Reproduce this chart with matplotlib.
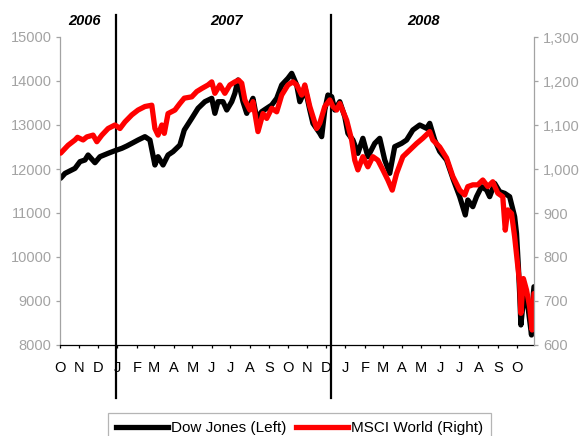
import matplotlib
matplotlib.use("Agg")
import matplotlib.pyplot as plt
import matplotlib.transforms as mtransforms
from matplotlib.lines import Line2D
from matplotlib.ticker import FuncFormatter
import pandas as pd

plt.rcParams['font.family'] = ['Liberation Sans', 'DejaVu Sans']

# ---- data -------------------------------------------------------------
dow_dates = [
    "2006-10-02", "2006-10-09", "2006-10-25", "2006-11-02", "2006-11-10",
    "2006-11-15", "2006-11-26", "2006-12-04", "2006-12-17", "2006-12-28",
    "2007-01-08", "2007-01-16", "2007-01-26", "2007-02-03", "2007-02-14",
    "2007-02-22", "2007-03-02", "2007-03-07", "2007-03-15", "2007-03-23",
    "2007-03-31", "2007-04-11", "2007-04-18", "2007-04-30", "2007-05-10",
    "2007-05-21", "2007-06-01", "2007-06-06", "2007-06-11", "2007-06-19",
    "2007-06-25", "2007-07-03", "2007-07-08", "2007-07-13", "2007-07-21",
    "2007-07-27", "2007-08-01", "2007-08-06", "2007-08-12", "2007-08-20",
    "2007-08-28", "2007-09-05", "2007-09-13", "2007-09-21", "2007-10-01",
    "2007-10-07", "2007-10-15", "2007-10-20", "2007-10-25", "2007-10-28",
    "2007-11-05", "2007-11-10", "2007-11-21", "2007-11-24", "2007-11-29",
    "2007-12-04", "2007-12-10", "2007-12-15", "2007-12-23", "2007-12-31",
    "2008-01-05", "2008-01-13", "2008-01-21", "2008-01-29", "2008-02-06",
    "2008-02-17", "2008-02-25", "2008-03-04", "2008-03-12", "2008-03-20",
    "2008-03-31", "2008-04-08", "2008-04-18", "2008-04-29", "2008-05-10",
    "2008-05-15", "2008-05-23", "2008-05-31", "2008-06-11", "2008-06-22",
    "2008-07-02", "2008-07-11", "2008-07-15", "2008-07-23", "2008-07-29",
    "2008-08-06", "2008-08-14", "2008-08-19", "2008-08-27", "2008-09-04",
    "2008-09-12", "2008-09-20", "2008-09-28", "2008-10-01", "2008-10-04",
    "2008-10-06", "2008-10-08", "2008-10-12", "2008-10-14", "2008-10-20",
    "2008-10-25", "2008-10-28", "2008-10-29",
]
dow_values = [
    11790, 11900, 12015, 12167, 12205, 12318, 12143, 12280, 12356, 12416,
    12470, 12523, 12598, 12659, 12735, 12659, 12091, 12280, 12091, 12318,
    12394, 12545, 12886, 13152, 13379, 13530, 13606, 13265, 13530, 13530,
    13341, 13530, 13720, 14023, 13530, 13265, 13454, 13606, 13152, 13303,
    13379, 13454, 13606, 13909, 14061, 14174, 13909, 13530, 13682, 13871,
    13341, 13038, 12811, 12735, 13341, 13682, 13644, 13341, 13530, 13189,
    12811, 12659, 12356, 12697, 12280, 12583, 12697, 12205, 11902, 12508,
    12583, 12659, 12886, 13000, 12924, 13038, 12659, 12400, 12205, 11750,
    11371, 10955, 11295, 11144, 11371, 11598, 11523, 11371, 11674, 11485,
    11447, 11371, 10917, 10538, 9780, 9174, 8455, 9023, 9250, 8795,
    8227, 9174, 9325,
]

msci_dates = [
    "2006-10-02", "2006-10-14", "2006-10-25", "2006-10-29", "2006-11-07",
    "2006-11-13", "2006-11-23", "2006-11-29", "2006-12-07", "2006-12-17",
    "2006-12-28", "2007-01-05", "2007-01-13", "2007-01-24", "2007-02-03",
    "2007-02-14", "2007-02-25", "2007-03-02", "2007-03-07", "2007-03-13",
    "2007-03-17", "2007-03-23", "2007-04-03", "2007-04-11", "2007-04-18",
    "2007-04-30", "2007-05-08", "2007-05-16", "2007-05-26", "2007-06-01",
    "2007-06-06", "2007-06-14", "2007-06-22", "2007-06-30", "2007-07-08",
    "2007-07-14", "2007-07-19", "2007-07-24", "2007-08-01", "2007-08-06",
    "2007-08-14", "2007-08-22", "2007-08-28", "2007-09-05", "2007-09-13",
    "2007-09-21", "2007-10-01", "2007-10-09", "2007-10-15", "2007-10-23",
    "2007-10-28", "2007-11-05", "2007-11-16", "2007-11-21", "2007-11-29",
    "2007-12-07", "2007-12-12", "2007-12-18", "2007-12-23", "2008-01-03",
    "2008-01-11", "2008-01-16", "2008-01-21", "2008-01-29", "2008-02-06",
    "2008-02-14", "2008-02-22", "2008-03-01", "2008-03-09", "2008-03-16",
    "2008-03-23", "2008-04-02", "2008-04-13", "2008-04-24", "2008-05-04",
    "2008-05-15", "2008-05-20", "2008-05-31", "2008-06-11", "2008-06-21",
    "2008-07-02", "2008-07-10", "2008-07-15", "2008-07-23", "2008-07-31",
    "2008-08-08", "2008-08-16", "2008-08-24", "2008-09-01", "2008-09-09",
    "2008-09-13", "2008-09-17", "2008-09-23", "2008-09-28", "2008-10-02",
    "2008-10-06", "2008-10-08", "2008-10-12", "2008-10-17", "2008-10-22",
    "2008-10-26", "2008-10-29",
]
msci_values = [
    1036, 1054, 1066, 1072, 1066, 1073, 1077, 1062, 1077, 1092,
    1100, 1092, 1107, 1123, 1134, 1142, 1145, 1092, 1077, 1100,
    1081, 1126, 1134, 1149, 1161, 1164, 1176, 1183, 1191, 1198,
    1172, 1191, 1172, 1191, 1198, 1202, 1195, 1157, 1134, 1153,
    1085, 1126, 1115, 1138, 1130, 1168, 1191, 1198, 1191, 1168,
    1191, 1142, 1092, 1104, 1142, 1157, 1142, 1134, 1149, 1111,
    1066, 1020, 998, 1028, 1005, 1028, 1020, 998, 975, 952,
    990, 1028, 1043, 1058, 1070, 1085, 1066, 1050, 1025, 983,
    952, 941, 960, 964, 964, 975, 960, 971, 945, 937,
    861, 907, 899, 846, 793, 740, 672, 751, 725, 687,
    634, 717,
]

month_labels = ["O", "N", "D", "J", "F", "M", "A", "M", "J", "J", "A", "S",
                "O", "N", "D", "J", "F", "M", "A", "M", "J", "J", "A", "S", "O"]
year_labels = ["2006", "2007", "2008"]
year_label_dates = ["2006-11-10", "2007-06-24", "2008-05-05"]
separator_dates = ["2006-12-29", "2007-12-09"]
series_names = ["Dow Jones (Left)", "MSCI World (Right)"]

# ---- figure -------------------------------------------------------------
W, H = 579, 436
fig = plt.figure(figsize=(W / 100, H / 100), dpi=100)
x0, x1, y_top, y_bot = 60, 534, 37, 345
ax = fig.add_axes([x0 / W, 1 - y_bot / H, (x1 - x0) / W, (y_bot - y_top) / H])
ax2 = ax.twinx()

grey = "#a3a3a3"
lw = 3.8

ax.plot(pd.to_datetime(dow_dates), dow_values, color="black", lw=lw,
        solid_joinstyle="round", solid_capstyle="round")
ax2.plot(pd.to_datetime(msci_dates), msci_values, color="#ff0000", lw=lw,
         solid_joinstyle="round", solid_capstyle="round")

ax.set_xlim(pd.Timestamp("2006-10-01"), pd.Timestamp("2008-10-29"))
ax.set_ylim(8000, 15000)
ax.set_yticks(range(8000, 15001, 1000))
ax2.set_ylim(600, 1300)
ax2.set_yticks(range(600, 1301, 100))
ax2.yaxis.set_major_formatter(FuncFormatter(lambda v, p: f"{v:,.0f}"))

month_ticks = pd.date_range("2006-10-01", "2008-10-01", freq="MS")
ax.set_xticks(month_ticks)
ax.set_xticklabels(month_labels)

# spines
for a in (ax, ax2):
    a.spines["top"].set_visible(False)
ax.spines["right"].set_visible(False)
ax2.spines["left"].set_visible(False)
ax2.spines["bottom"].set_visible(False)
ax.spines["left"].set_color(grey)
ax2.spines["right"].set_color(grey)
ax.spines["bottom"].set_color("black")
for s in ("left", "bottom"):
    ax.spines[s].set_linewidth(0.9)
ax2.spines["right"].set_linewidth(0.9)

fs = 10.5
ax.tick_params(axis="y", direction="out", length=3, width=0.9, color=grey,
               labelcolor=grey, labelsize=fs, pad=3)
ax2.tick_params(axis="y", direction="out", length=3, width=0.9, color=grey,
                labelcolor=grey, labelsize=fs, pad=3.5)
ax.tick_params(axis="x", direction="out", length=2.5, width=0.9, color="black",
               labelcolor="black", labelsize=fs, pad=9)

# year separators
for d in separator_dates:
    ax.axvline(pd.Timestamp(d), ymin=(y_bot - 398) / (y_bot - y_top),
               ymax=(y_bot - 15) / (y_bot - y_top), color="black", lw=1.6,
               clip_on=False, zorder=5)

# year headings
trans = mtransforms.blended_transform_factory(ax.transData, ax.transAxes)
for lab, d in zip(year_labels, year_label_dates):
    ax.text(pd.Timestamp(d), (y_bot - 20.5) / (y_bot - y_top), lab,
            transform=trans, ha="center", va="center", fontsize=fs,
            fontweight="bold", fontstyle="italic", color="black")

# legend
handles = [Line2D([], [], color="black", lw=lw),
           Line2D([], [], color="#ff0000", lw=lw)]
leg = fig.legend(handles, series_names, loc="upper left",
                 bbox_to_anchor=(108 / W, 1 - 413 / H), ncol=2, fontsize=11,
                 frameon=True, fancybox=False, edgecolor=grey,
                 handlelength=3.4, handletextpad=0.2, columnspacing=0.6,
                 borderpad=0.55, borderaxespad=0)
leg.get_frame().set_linewidth(0.9)

fig.savefig("out.png", dpi=100)
